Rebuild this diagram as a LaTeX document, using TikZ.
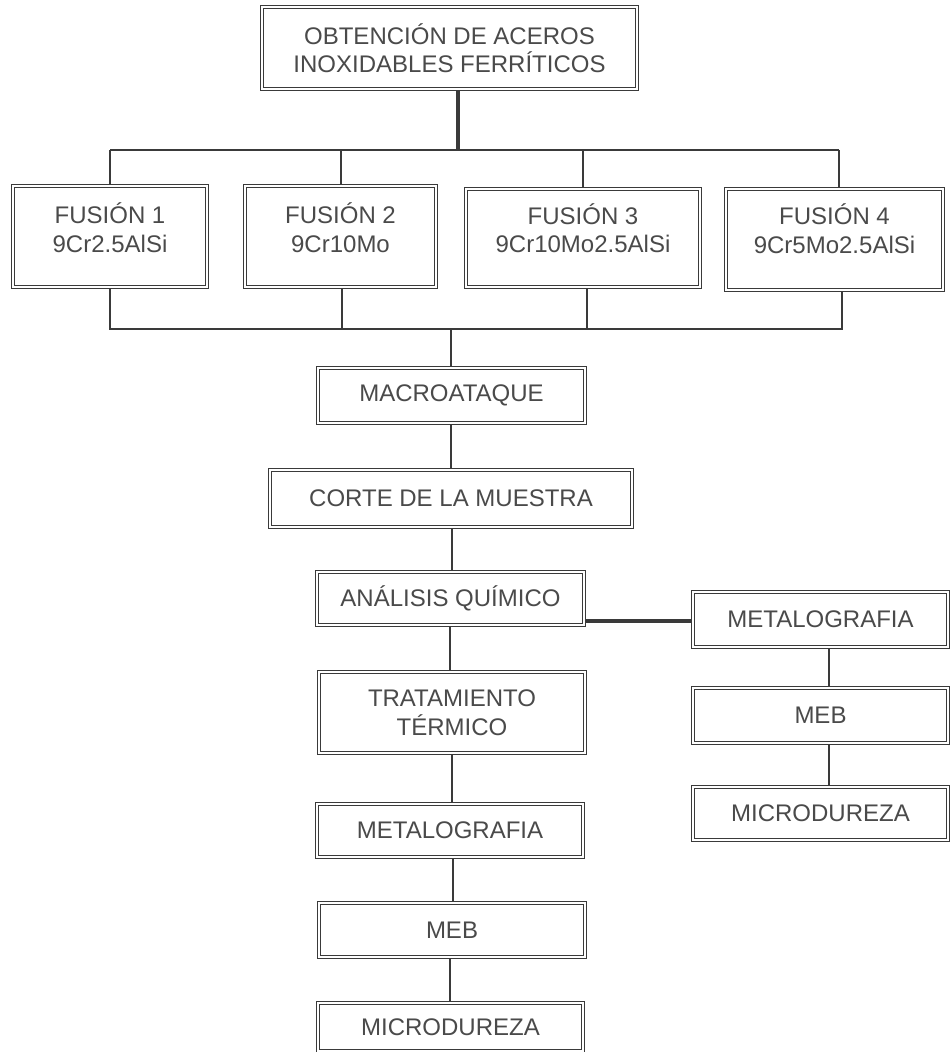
\documentclass[tikz,border=0pt]{standalone}
\usepackage{fontspec}
\setmainfont{Liberation Sans}
\definecolor{linec}{HTML}{3A3A3A}
\definecolor{textc}{HTML}{4A4A4A}
\begin{document}
\begin{tikzpicture}[x=1pt,y=-1pt,
  box/.style={draw=linec, double, double distance=2.2pt, line width=0.7pt,
    inner sep=0pt, outer sep=1.8pt, font=\fontsize{24}{28.5}\selectfont, text=textc, align=center},
  txt/.style={font=\fontsize{24}{28.5}\selectfont, text=textc, align=center, inner sep=0pt},
  conn/.style={draw=linec, line width=1.4pt},
  thickconn/.style={draw=linec, line width=3.6pt}]
\fill[white] (0,0) rectangle (951,1052);
\useasboundingbox (0,0) rectangle (951,1052);

% top
\node[box, minimum width=375pt, minimum height=82pt] (top) at (449.5,48) {OBTENCIÓN DE ACEROS\\INOXIDABLES FERRÍTICOS};

% fusions
\node[box, minimum width=194pt, minimum height=101pt] (f1) at (110,236.5) {};
\node[box, minimum width=191pt, minimum height=101pt] (f2) at (340.5,236.5) {};
\node[box, minimum width=234pt, minimum height=98pt] (f3) at (583,238) {};
\node[box, minimum width=217pt, minimum height=101pt] (f4) at (834.5,239.5) {};
\node[txt] (t1) at ([yshift=9pt]f1.center) {FUSIÓN 1\\9Cr2.5AlSi};
\node[txt] (t2) at ([yshift=9pt]f2.center) {FUSIÓN 2\\9Cr10Mo};
\node[txt] (t3) at ([yshift=10pt]f3.center) {FUSIÓN 3\\9Cr10Mo2.5AlSi};
\node[txt] (t4) at ([yshift=11pt]f4.center) {FUSIÓN 4\\9Cr5Mo2.5AlSi};

% main column
\node[box, minimum width=267pt, minimum height=55pt] (macro) at (451.5,395.5) {MACROATAQUE};
\node[box, minimum width=362pt, minimum height=57pt] (corte) at (451,498.5) {CORTE DE LA MUESTRA};
\node[box, minimum width=267pt, minimum height=53pt] (anal) at (450.5,598.5) {ANÁLISIS QUÍMICO};
\node[box, minimum width=266pt, minimum height=81pt] (trat) at (452,712.5) {TRATAMIENTO\\TÉRMICO};
\node[box, minimum width=266pt, minimum height=53pt] (metL) at (450,830.5) {METALOGRAFIA};
\node[box, minimum width=266pt, minimum height=54pt] (mebL) at (452,930) {MEB};
\node[box, minimum width=265pt, minimum height=48pt] (micL) at (450.5,1027) {MICRODUREZA};

% right column
\node[box, minimum width=255pt, minimum height=55pt] (metR) at (820.5,619.5) {METALOGRAFIA};
\node[box, minimum width=255pt, minimum height=55pt] (mebR) at (820.5,715.5) {MEB};
\node[box, minimum width=255pt, minimum height=53pt] (micR) at (820.5,813.5) {MICRODUREZA};

% coordinates
\coordinate (busT) at (458,150);
\coordinate (bT1) at (110,150);
\coordinate (bT4) at (839,150);
\coordinate (bB1) at (110,329);
\coordinate (bB4) at (842,329);
\coordinate (busB) at (451,329);

% top trunk and bus
\draw[thickconn] (top.south -| busT) -- (busT);
\draw[conn] (bT1) -- (bT4);
\draw[conn] (bT1) -- (f1.north -| bT1);
\draw[conn] (341,150) -- (f2.north -| 341,0);
\draw[conn] (583,150) -- (f3.north -| 583,0);
\draw[conn] (bT4) -- (f4.north -| bT4);

% bottom bus
\draw[conn] (f1.south -| bB1) -- (bB1) -- (bB4) -- (f4.south -| bB4);
\draw[conn] (f2.south -| 342,0) -- (342,329);
\draw[conn] (f3.south -| 587,0) -- (587,329);
\draw[conn] (busB) -- (macro.north -| busB);

% main column connectors
\draw[conn] (macro.south -| 451,0) -- (corte.north -| 451,0);
\draw[conn] (corte.south -| 452,0) -- (anal.north -| 452,0);
\draw[conn] (anal.south -| 450,0) -- (trat.north -| 450,0);
\draw[conn] (trat.south -| 452,0) -- (metL.north -| 452,0);
\draw[conn] (metL.south -| 453,0) -- (mebL.north -| 453,0);
\draw[conn] (mebL.south -| 450,0) -- (micL.north -| 450,0);

% branch
\draw[thickconn] (anal.east |- 0,621) -- (metR.west |- 0,621);
\draw[conn] (metR.south -| 829,0) -- (mebR.north -| 829,0);
\draw[conn] (mebR.south -| 829,0) -- (micR.north -| 829,0);
\end{tikzpicture}
\end{document}
